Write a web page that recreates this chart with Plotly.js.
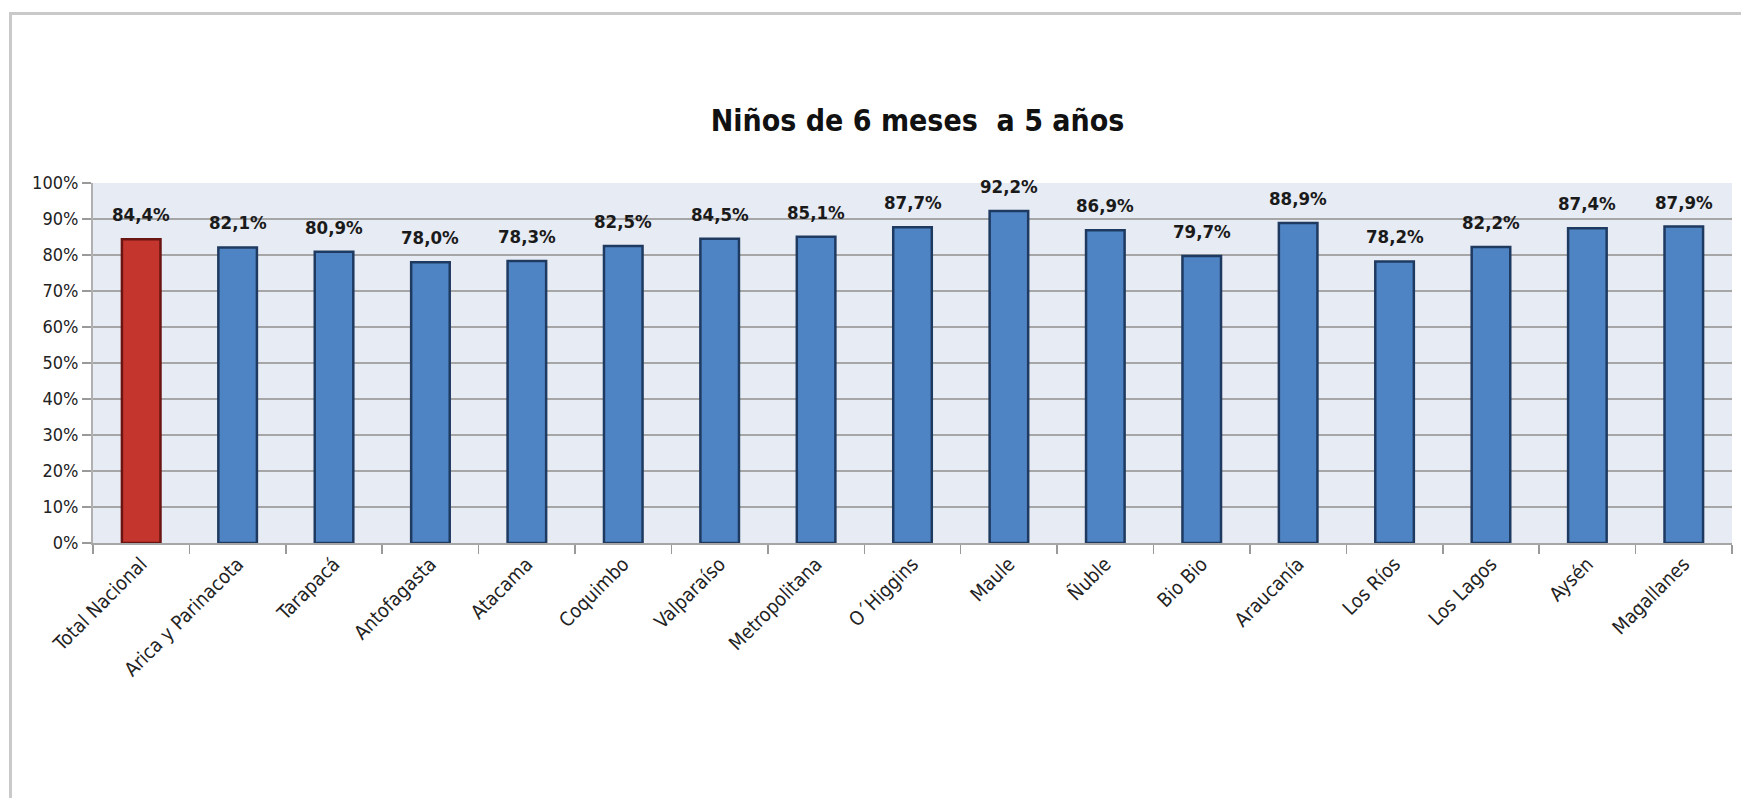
<!DOCTYPE html>
<html>
<head>
<meta charset="utf-8">
<script src="https://cdn.plot.ly/plotly-3.0.1.min.js"></script>
<style>
html,body{margin:0;padding:0;background:#fff;}
#wrap{position:absolute;left:0;top:0;width:1741px;height:798px;overflow:hidden;}
#frame{position:absolute;left:9px;top:12px;width:1760px;height:820px;border-left:3px solid #c9c9c9;border-top:3px solid #c9c9c9;pointer-events:none;}
#chart{position:absolute;left:0;top:0;width:1741px;height:798px;}
</style>
</head>
<body>
<div id="wrap">
<div id="chart"></div>
<div id="frame"></div>
</div>
<script>
const categories = ["Total Nacional","Arica y Parinacota","Tarapacá","Antofagasta","Atacama","Coquimbo","Valparaíso","Metropolitana","O´Higgins","Maule","Ñuble","Bio Bio","Araucanía","Los Ríos","Los Lagos","Aysén","Magallanes"];
const values = [84.4,82.1,80.9,78.0,78.3,82.5,84.5,85.1,87.7,92.2,86.9,79.7,88.9,78.2,82.2,87.4,87.9];
const labels = ["84,4%","82,1%","80,9%","78,0%","78,3%","82,5%","84,5%","85,1%","87,7%","92,2%","86,9%","79,7%","88,9%","78,2%","82,2%","87,4%","87,9%"];
const yTickVals = [0,10,20,30,40,50,60,70,80,90,100];
const yTickText = ["0%","10%","20%","30%","40%","50%","60%","70%","80%","90%","100%"];

const FONT = "'DejaVu Sans Condensed', 'Liberation Sans Narrow', sans-serif";

const colors = values.map((v,i)=> i===0 ? "#c4352e" : "#4f84c4");
const lineColors = values.map((v,i)=> i===0 ? "#6a1511" : "#1f3a60");

const trace = {
  type: "bar",
  x: categories,
  y: values,
  marker: {color: colors, line: {color: lineColors, width: 2.5}},
  hoverinfo: "none"
};

const annotations = categories.map((c,i)=>({
  x: c, y: values[i], xref: "x", yref: "y",
  text: "<b>"+labels[i]+"</b>",
  showarrow: false, yanchor: "bottom", yshift: 12,
  font: {family: FONT, size: 18.5, color: "#1a1a1a"}
}));

const layout = {
  width: 1741, height: 798,
  margin: {l: 93, r: 9, t: 183, b: 255, pad: 0},
  paper_bgcolor: "#ffffff",
  plot_bgcolor: "#e7ebf3",
  bargap: 0.6,
  showlegend: false,
  title: {
    text: "<b>Niños de 6 meses  a 5 años</b>",
    font: {family: FONT, size: 30, color: "#111"},
    xref: "container", x: 0.527, xanchor: "center",
    yref: "container", y: 1 - 120/798, yanchor: "middle"
  },
  xaxis: {
    type: "category",
    tickangle: -45,
    tickson: "boundaries",
    ticks: "outside", ticklen: 9, tickcolor: "#9a9a9a", tickwidth: 1.5,
    showline: true, linecolor: "#a6a6a6", linewidth: 2,
    showgrid: false,
    tickfont: {family: FONT, size: 19.5, color: "#222"},
    fixedrange: true
  },
  yaxis: {
    range: [0, 100],
    tickvals: yTickVals, ticktext: yTickText,
    ticks: "outside", ticklen: 9, tickcolor: "#9a9a9a", tickwidth: 2,
    showline: true, linecolor: "#b0b0b0", linewidth: 2,
    showgrid: true, gridcolor: "#a6a6a6", gridwidth: 2,
    zeroline: false,
    tickfont: {family: FONT, size: 18, color: "#222"},
    fixedrange: true
  },
  annotations: annotations
};

Plotly.newPlot("chart", [trace], layout, {displayModeBar: false, staticPlot: true});
</script>
</body>
</html>
